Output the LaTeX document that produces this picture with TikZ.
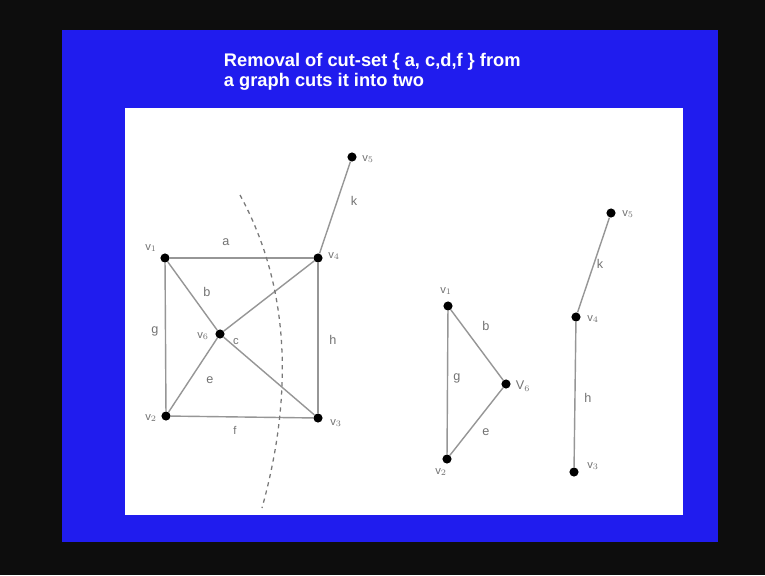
\documentclass[tikz,border=0pt]{standalone}
\usepackage{fontspec}
\setsansfont{Liberation Sans}
\usetikzlibrary{calc}
\definecolor{slideblue}{RGB}{32,28,238}
\definecolor{edgegray}{RGB}{150,150,150}

\begin{document}
\begin{tikzpicture}[x=0.025cm, y=-0.025cm, font=\sffamily,
  vtx/.style={circle, fill=black, inner sep=0pt, minimum size=6.5pt},
  edge/.style={edgegray, line width=1pt},
  lbl/.style={text=black!55, font=\sffamily\small},
  vlbl/.style={text=black!55, font=\sffamily\footnotesize}]
  % slide frame
  \fill[black!95] (0,0) rectangle (765,575);
  \fill[slideblue] (62,30) rectangle (718,542);
  \fill[white] (125,108) rectangle (683,515);
  \node[anchor=west, text=white, font=\sffamily\bfseries\fontsize{13}{14.5}\selectfont, align=left] (title) at (219,72)
    {Removal of cut-set \{ a, c,d,f \} from\\a graph cuts it into two};
  % the full graph
  \node[vtx] (v1) at (165,258) {};
  \node[vtx] (v4) at (318,258) {};
  \node[vtx] (v5) at (352,157) {};
  \node[vtx] (v6) at (220,334) {};
  \node[vtx] (v2) at (166,416) {};
  \node[vtx] (v3) at (318,418) {};
  \draw[edge] (v1) -- (v4);
  \draw[edge] (v1) -- (v2);
  \draw[edge] (v2) -- (v3);
  \draw[edge] (v4) -- (v3);
  \draw[edge] (v4) -- (v5);
  \draw[edge] (v1) -- (v6);
  \draw[edge] (v6) -- (v3);
  \draw[edge] (v6) -- (v4);
  \draw[edge] (v6) -- (v2);
  \node[vlbl] at (151,248) {v$_1$};
  \node[vlbl] at (334,256) {v$_4$};
  \node[vlbl] at (368,159) {v$_5$};
  \node[vlbl] at (203,336) {v$_6$};
  \node[vlbl] at (151,418) {v$_2$};
  \node[vlbl] at (336,423) {v$_3$};
  \node[lbl] at (226,242) {a};
  \node[lbl] at (207,292) {b};
  \node[vlbl] at (236,342) {c};
  \node[lbl] at (155,331) {g};
  \node[lbl] at (333,340) {h};
  \node[lbl] at (210,380) {e};
  \node[vlbl] at (235,430) {f};
  \node[lbl] at (354,201) {k};
  % cut line
  \draw[edgegray!80!black, line width=0.9pt, dashed]
    (240,195) .. controls (292,290) and (292,400) .. (262,508);
  % first part
  \node[vtx] (w1) at (448,306) {};
  \node[vtx] (w6) at (506,384) {};
  \node[vtx] (w2) at (447,459) {};
  \draw[edge] (w1) -- (w6);
  \draw[edge] (w6) -- (w2);
  \draw[edge] (w1) -- (w2);
  \node[vlbl] at (446,291) {v$_1$};
  \node[vlbl] at (441,472) {v$_2$};
  \node[lbl] at (523,386) {V$_6$};
  \node[lbl] at (486,326) {b};
  \node[lbl] at (457,378) {g};
  \node[lbl] at (486,432) {e};
  % second part
  \node[vtx] (u5) at (611,213) {};
  \node[vtx] (u4) at (576,317) {};
  \node[vtx] (u3) at (574,472) {};
  \draw[edge] (u5) -- (u4);
  \draw[edge] (u4) -- (u3);
  \node[vlbl] at (628,214) {v$_5$};
  \node[vlbl] at (593,319) {v$_4$};
  \node[vlbl] at (593,466) {v$_3$};
  \node[lbl] at (600,264) {k};
  \node[lbl] at (588,398) {h};
\end{tikzpicture}
\end{document}
